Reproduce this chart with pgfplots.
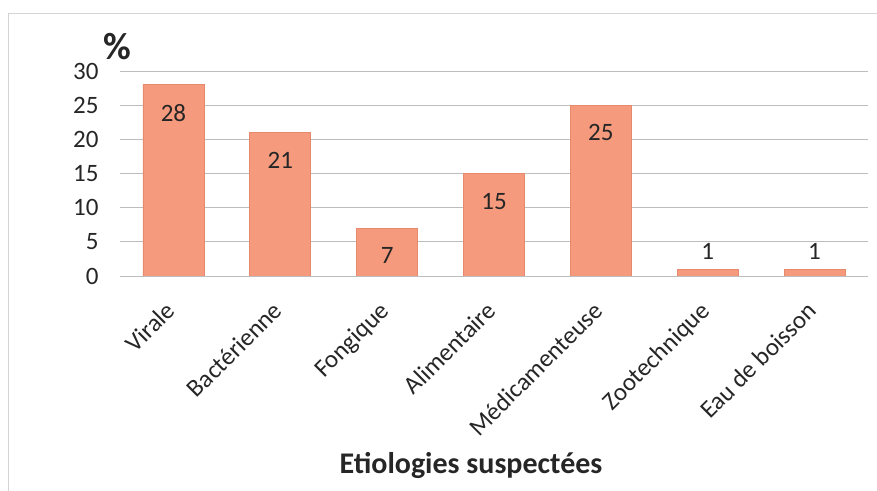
\documentclass[border=0pt]{standalone}
\usepackage{pgfplots}
\pgfplotsset{compat=1.18}
\usepackage{fontspec}
\setmainfont{Carlito}

\definecolor{barfill}{HTML}{F69A7D}
\definecolor{baredge}{HTML}{E58A6D}
\definecolor{txt}{HTML}{262626}
\definecolor{gridc}{HTML}{BDBDBD}
\definecolor{framec}{HTML}{D4D4D4}

\newcommand{\tickfont}{\fontsize{25bp}{29bp}\selectfont}

\begin{document}
\begin{tikzpicture}
\useasboundingbox (0bp,0bp) rectangle (877bp,491bp);
% outer chart frame
\draw[framec, line width=0.8bp] (8bp,0bp) -- (8bp,478bp) -- (877bp,478bp);

\begin{axis}[
  at={(120bp,215bp)}, anchor=south west,
  scale only axis, width=748bp, height=205bp,
  ybar, bar width=61bp, bar shift=0pt,
  xmin=-0.5, xmax=6.5, ymin=0, ymax=30,
  xtick={0,...,6},
  xticklabels={Virale,Bactérienne,Fongique,Alimentaire,Médicamenteuse,Zootechnique,Eau de boisson},
  ytick={0,5,...,30},
  major tick length=0pt,
  axis x line*=bottom, axis y line*=left,
  x axis line style={gridc, line width=0.8bp},
  y axis line style={draw=none},
  ymajorgrids, grid style={gridc, line width=0.8bp},
  /pgf/number format/assume math mode=true,
  yticklabel style={font=\tickfont, text=txt, xshift=-18bp},
  xticklabel style={font=\tickfont, text=txt, xshift=-9bp, rotate=45, anchor=north east, inner sep=0pt},
  xticklabel shift=24bp,
  visualization depends on={rawy \as \rawy},
  nodes near coords,
  every node near coord/.append style={font=\tickfont, text=txt, anchor=north,
     yshift={\rawy>2 ? -16 : 29}},
]
\addplot[fill=barfill, draw=baredge, line width=0.6bp] coordinates {
  (0,28) (1,21) (2,7) (3,15) (4,25) (5,1) (6,1)
};
\end{axis}

\node[text=txt, font=\fontsize{38bp}{42bp}\selectfont\bfseries] at (117bp,444bp) {\%};
\node[text=txt, font=\fontsize{30bp}{34bp}\selectfont\bfseries, anchor=base] at (471bp,18bp) {Etiologies suspectées};
\end{tikzpicture}
\end{document}
